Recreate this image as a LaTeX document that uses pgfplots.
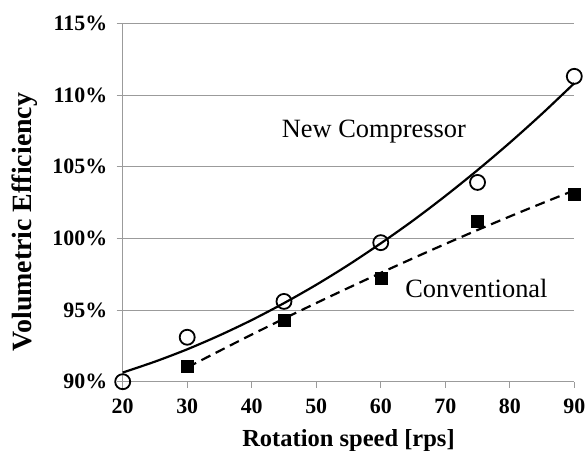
\documentclass[border=0pt]{standalone}
\usepackage{fontspec}
\setmainfont{Liberation Serif}
\usepackage{pgfplots}
\pgfplotsset{compat=1.18}
\definecolor{gridc}{RGB}{155,155,155}

\begin{document}
\begin{tikzpicture}
\begin{axis}[
  scale only axis, width=451.6bp, height=358.4bp,
  xmin=20, xmax=90, ymin=90, ymax=115,
  xtick={20,30,...,90}, ytick={90,95,...,115},
  axis x line*=bottom, axis y line*=left,
  axis line style={gridc, line width=0.8bp},
  ymajorgrids, grid style={gridc, line width=0.8bp},
  tick align=outside, major tick length=6bp,
  tick style={gridc, line width=0.8bp},
  ticklabel style={font=\bfseries\fontsize{22}{22}\selectfont, black},
  xticklabel style={yshift=-8bp},
  yticklabel style={xshift=-6bp},
  /pgf/number format/assume math mode=true,
  yticklabel={\pgfmathprintnumber{\tick}\%},
  clip=false,
]
% trendlines (2nd order fits)
\addplot[black, line width=2.2bp, smooth] coordinates {
  (20,90.64)(25,91.40)(30,92.26)(35,93.23)(40,94.30)(45,95.48)(50,96.76)(55,98.15)
  (60,99.65)(65,101.24)(70,102.95)(75,104.76)(80,106.67)(85,108.69)(90,110.82)};
\addplot[black, line width=2.2bp, dash pattern=on 10bp off 6bp, smooth] coordinates {
  (30,90.99)(37.5,92.72)(45,94.40)(52.5,96.02)(60,97.59)(67.5,99.11)(75,100.58)(82.5,101.99)(90,103.35)};
% measured points
\addplot[only marks, mark=o, mark size=7.5bp, mark options={line width=1.8bp, black}] coordinates {
  (20,90.0)(30,93.1)(45,95.6)(60,99.7)(75,103.9)(90,111.3)};
\addplot[only marks, mark=square*, mark size=6bp, black] coordinates {
  (30,91.1)(45,94.3)(60,97.2)(75,101.2)(90,103.1)};

\node[font=\fontsize{26.5}{26.5}\selectfont, anchor=base west, inner sep=0] at (axis cs:44.65,107.0) {New Compressor};
\node[font=\fontsize{26.5}{26.5}\selectfont, anchor=base west, inner sep=0] at (axis cs:63.77,95.84) {Conventional};
\node[font=\bfseries\fontsize{24.6}{24.6}\selectfont, anchor=base, inner sep=0] at ([yshift=-65bp]rel axis cs:0.5,0) {Rotation speed [rps]};
\node[font=\bfseries\fontsize{28}{28}\selectfont, rotate=90, anchor=base, inner sep=0] at ([xshift=-91bp]rel axis cs:0,0.4456) {Volumetric Efficiency};
\coordinate (sw) at (rel axis cs:0,0);
\end{axis}
\pgfresetboundingbox
\path[use as bounding box] ([shift={(-122.7bp,-69.3bp)}]sw) rectangle ([shift={(464.3bp,381.7bp)}]sw);
\end{tikzpicture}
\end{document}
